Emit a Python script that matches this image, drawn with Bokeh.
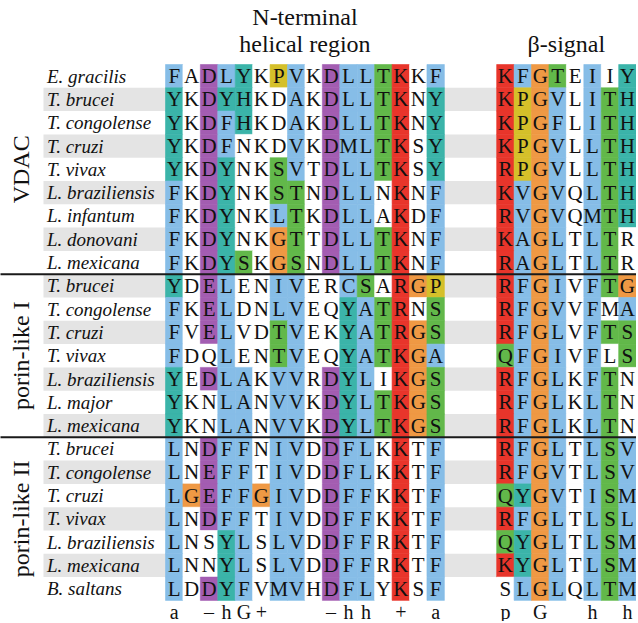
import math
from bokeh.plotting import figure
from bokeh.models import ColumnDataSource, Range1d
from bokeh.core.properties import value
from bokeh.embed import file_html
from bokeh.resources import INLINE

# ---------------- data ----------------
group_labels = ["VDAC", "porin-like I", "porin-like II"]
group_sizes = [9, 7, 7]

species = [
    "E. gracilis", "T. brucei", "T. congolense", "T. cruzi", "T. vivax",
    "L. braziliensis", "L. infantum", "L. donovani", "L. mexicana",
    "T. brucei", "T. congolense", "T. cruzi", "T. vivax",
    "L. braziliensis", "L. major", "L. mexicana",
    "T. brucei", "T. congolense", "T. cruzi", "T. vivax",
    "L. braziliensis", "L. mexicana", "B. saltans",
]

nterm_seqs = [
    "FADLYKPVKDLLTKKF",
    "YKDYHKDAKDLLTKNY",
    "YKDFHKDAKDLLTKNY",
    "YKDFNKDVKDMLTKSY",
    "YKDYNKSVTDLLTKSY",
    "FKDYNKSTNDLLNKNF",
    "FKDYNKLTKDLLAKDF",
    "FKDYNKGTTDLLTKNF",
    "FKDYSKGSNDLLTKNF",
    "YDELENIVERCSARGP",
    "FKELDNLVEQYATRNS",
    "FVELVDTVEKYATRGS",
    "FDQLENTVEQYATKGA",
    "YEDLAKVVRDYLIKGS",
    "YKNLANVVKDYLTKGS",
    "YKNLANVVKDYLTKGS",
    "LNDFFNIVDDFLKKTF",
    "LNEFFTIVDDFLKKTF",
    "LGEFFGIVDDFFKKTF",
    "LNDFFTIVDDFFKKTF",
    "LNSYLSLVDDFFRKTF",
    "LNNYLSLVDDFFRKTF",
    "LDDYFVMVHDFLYKSF",
]

# colour class per residue: b blue, r red, g green, p purple, c cyan, o orange, y yellow, w white
nterm_cols = [
    "bwpbcwybwpbbgrwb",
    "cwpccwwbwpbbgrwc",
    "cwpbcwwbwpbbgrwc",
    "cwpbwwwbwpbbgrwc",
    "cwpcwwgbwpbbgrwc",
    "bwpcwwggwpbbwrwb",
    "bwpcwwbgwpbbwrwb",
    "bwpcwwogwpbbgrwb",
    "bwpcgwogwpbbgrwb",
    "cwpbwwbbwwbgwroy",
    "bwpbwwbbwwcbgrwg",
    "bwpbwwgbwwcbgrog",
    "bwwbwwgbwwcbgrob",
    "cwpbbwbbwpcbwrog",
    "cwwbbwbbwpcbgrog",
    "cwwbbwbbwpcbgrog",
    "bwpbbwbbwpbbwrwb",
    "bwpbbwbbwpbbwrwb",
    "bopbbobbwpbbwrwb",
    "bwpbbwbbwpbbwrwb",
    "bwwcbwbbwpbbwrwb",
    "bwwcbwbbwpbbwrwb",
    "bwpcbwbbwpbbwrwb",
]

beta_seqs = [
    "KFGTEIIY", "KPGVLITH", "KPGFLITH", "KPGVLLTH", "RPGVLLTH",
    "KVGVQLTH", "RVGVQMTH", "KAGLTLTR", "RAGLTLTR",
    "RFGIVFTG", "RFGVVFMA", "RFGLVFTS", "QFGIVFLS",
    "RFGLKFTN", "RFGLKLTN", "RFGLKLTN",
    "RFGLTLSV", "RFGVTLSV", "QYGVTISM", "RFGLTLSL",
    "QYGLTLSM", "KYGLTLSM", "SLGLQLTM",
]

beta_cols = [
    "rbogwbwc", "ryobwbgc", "ryobwbgc", "ryobwbgc", "ryobwbgc",
    "rbobwbgc", "rbobwbgc", "rbobwbgw", "rbobwbgw",
    "rbobwbgo", "rbobwbwb", "rbobwbgg", "gbobwbwg",
    "rbobwbgw", "rbobwbgw", "rbobwbgw",
    "rbobwbgb", "rbobwbgb", "gcobwbgb", "rbobwbgb",
    "gcobwbgb", "rcobwbgb", "wbobwbgb",
]

nterm_marks = ["a", "", "\u2013", "h", "G", "+", "", "", "", "\u2013", "h", "h", "", "+", "", "a"]
beta_marks = ["p", "", "G", "", "", "h", "", "h"]

nterm_title = ["N-terminal", "helical region"]
beta_title = "\u03b2-signal"

palette = {
    "b": "#86BDE7", "r": "#E8352B", "g": "#62B84A", "p": "#A35DB1",
    "c": "#3BB4A9", "o": "#EF9944", "y": "#D5C02A", "w": "#FFFFFF",
}
band_color = "#E4E4E4"

BETA_START = len(nterm_seqs[0]) + 3
SERIF = "'Liberation Serif', 'Times New Roman', Times, serif"

# ---------------- figure ----------------
CW, RH, X0, Y0 = 17.43, 23.3, 166.0, 65.0   # pixel geometry of the grid
W, H = 636, 621
p = figure(width=W, height=H,
           x_range=Range1d((1 - X0) / CW, (1 + W - X0) / CW),
           y_range=Range1d((1 + H - Y0) / RH, (1 - Y0) / RH),
           output_backend="svg", toolbar_location=None,
           x_axis_type=None, y_axis_type=None, min_border=0)
p.xgrid.visible = False
p.ygrid.visible = False
p.outline_line_color = None
p.background_fill_color = "white"
p.border_fill_color = "white"

n_rows = len(species)

# alternating grey bands
band_rows = [r for r in range(n_rows) if r % 2 == 1]
p.quad(left=[-7.0] * len(band_rows), right=[27.3] * len(band_rows),
       top=band_rows, bottom=[r + 1 for r in band_rows],
       fill_color=band_color, line_color=None)

# cells
L, R, T, B, C = [], [], [], [], []
tx, ty, tt = [], [], []
for r in range(n_rows):
    for blk_seq, blk_col, off in ((nterm_seqs, nterm_cols, 0), (beta_seqs, beta_cols, BETA_START)):
        for i, (aa, cc) in enumerate(zip(blk_seq[r], blk_col[r])):
            L.append(off + i); R.append(off + i + 1)
            T.append(r); B.append(r + 1)
            C.append(palette[cc])
            tx.append(off + i + 0.5); ty.append(r + 0.5); tt.append(aa)

cells = ColumnDataSource(dict(left=L, right=R, top=T, bottom=B, color=C))
p.quad(left="left", right="right", top="top", bottom="bottom", source=cells,
       fill_color="color", line_color="color", line_width=0.6)

p.text(x=tx, y=ty, text=tt, text_font=value(SERIF), text_font_size="21px",
       text_align="center", text_baseline="middle", text_color="#111111")

# species names
p.text(x=[-6.8] * n_rows, y=[r + 0.5 for r in range(n_rows)], text=species,
       text_font=value(SERIF), text_font_style="italic", text_font_size="19px",
       text_align="left", text_baseline="middle", text_color="#111111")

# group separators and labels
bounds = [0]
for s in group_sizes:
    bounds.append(bounds[-1] + s)
sep = bounds[1:-1]
p.segment(x0=[-10] * len(sep), x1=[28] * len(sep), y0=sep, y1=sep,
          line_color="#1a1a1a", line_width=2)
centers = [(bounds[i] + bounds[i + 1]) / 2 for i in range(len(group_sizes))]
p.text(x=[-8.3] * len(centers), y=centers, text=group_labels, angle=math.pi / 2,
       text_font=value(SERIF), text_font_size="24px", text_align="center",
       text_baseline="middle", text_color="#111111")

# consensus marks
mx, mt = [], []
for i, m in enumerate(nterm_marks):
    if m:
        mx.append(i + 0.5); mt.append(m)
for i, m in enumerate(beta_marks):
    if m:
        mx.append(BETA_START + i + 0.5); mt.append(m)
p.text(x=mx, y=[n_rows + 0.5] * len(mx), text=mt, text_font=value(SERIF),
       text_font_size="20px", text_align="center", text_baseline="middle",
       text_color="#111111")

# titles
ncx = len(nterm_seqs[0]) / 2
bcx = BETA_START + len(beta_seqs[0]) / 2
p.text(x=[ncx, ncx, bcx], y=[-2.06, -0.9, -0.9],
       text=[nterm_title[0], nterm_title[1], beta_title],
       text_font=value(SERIF), text_font_size="24px", text_align="center",
       text_baseline="middle", text_color="#111111")

open("out.html", "w").write(file_html(p, INLINE))
